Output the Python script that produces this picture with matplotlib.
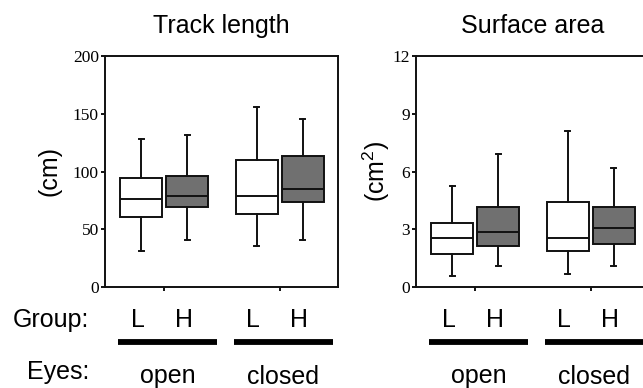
import matplotlib
matplotlib.use('Agg')
import matplotlib.pyplot as plt
from matplotlib.transforms import blended_transform_factory

# ---- data ----
group_labels = ['L', 'H']
eye_labels = ['open', 'closed']
# order: open-L, open-H, closed-L, closed-H
track_whislo = [31.2, 41.0, 35.2, 41.0]
track_q1 = [60.6, 69.3, 63.5, 73.6]
track_med = [76.2, 79.1, 79.1, 84.8]
track_q3 = [94.7, 96.1, 110.2, 113.1]
track_whishi = [127.8, 131.6, 155.8, 145.7]

area_whislo = [0.59, 1.09, 0.68, 1.09]
area_q1 = [1.70, 2.11, 1.87, 2.23]
area_med = [2.55, 2.87, 2.55, 3.05]
area_q3 = [3.31, 4.17, 4.42, 4.16]
area_whishi = [5.26, 6.89, 8.10, 6.20]

titles = ['Track length', 'Surface area']
ylabels = ['(cm)', '(cm$^{2}$)']
yticks_track = [0, 50, 100, 150, 200]
yticks_area = [0, 3, 6, 9, 12]

plt.rcParams['mathtext.fontset'] = 'custom'
plt.rcParams['mathtext.rm'] = 'Liberation Sans'
plt.rcParams['mathtext.it'] = 'Liberation Sans'
plt.rcParams['font.family'] = ['Liberation Sans', 'DejaVu Sans']

W, H = 643, 388
fig = plt.figure(figsize=(W / 100, H / 100), dpi=100)

fills = ['white', '#707070']
LW = 1.4
offset = 0.2
boxw = 0.365
sans = 'Liberation Sans'
big = 18


def make_panel(left_px, whislo, q1, med, q3, whishi, yticks, title, ylabel, ylabel_x):
    ax = fig.add_axes([left_px / W, (H - 287) / H, 233 / W, 231 / H])
    stats = []
    positions = []
    colors = []
    for gi in range(len(eye_labels)):
        for li in range(len(group_labels)):
            k = gi * len(group_labels) + li
            stats.append(dict(whislo=whislo[k], q1=q1[k], med=med[k], q3=q3[k],
                              whishi=whishi[k], fliers=[]))
            positions.append(gi + 1 + (-offset if li == 0 else offset))
            colors.append(fills[li])
    bp = ax.bxp(stats, positions=positions, widths=boxw, patch_artist=True,
                showfliers=False, capwidths=0.045,
                boxprops=dict(linewidth=LW, edgecolor='#111111'),
                medianprops=dict(linewidth=LW, color='#111111'),
                whiskerprops=dict(linewidth=LW, color='#111111'),
                capprops=dict(linewidth=LW, color='#111111'))
    for patch, c in zip(bp['boxes'], colors):
        patch.set_facecolor(c)
    ax.set_xlim(0.487, 2.504)
    ax.set_ylim(yticks[0], yticks[-1])
    ax.set_yticks(yticks)
    ax.set_yticklabels([str(t) for t in yticks], fontfamily='Liberation Serif', fontsize=12.5)
    ax.set_xticks([1, 2])
    ax.set_xticklabels([])
    ax.tick_params(axis='both', direction='out', length=3, width=LW, pad=1.5, color='#111111')
    for s in ax.spines.values():
        s.set_linewidth(LW)
        s.set_color('#111111')
    ax.set_title(title, fontsize=big, fontfamily=sans, pad=16.5)
    ax.set_ylabel(ylabel, fontsize=big, fontfamily=sans)
    ax.yaxis.set_label_coords(ylabel_x, 0.5)

    tr = blended_transform_factory(ax.transData, fig.transFigure)
    y_group = 1 - 327 / H
    y_line = 1 - 341.5 / H
    y_eyes = 1 - 383.5 / H
    for gi, e in enumerate(eye_labels):
        c = gi + 1
        for li, g in enumerate(group_labels):
            x = c + (-offset if li == 0 else offset) - 0.03
            ax.text(x, y_group, g, transform=tr, ha='center', va='baseline',
                    fontsize=big, fontfamily=sans, clip_on=False)
        ax.plot([c - 0.4, c + 0.46], [y_line, y_line], transform=tr, color='black',
                linewidth=4.2, solid_capstyle='butt', clip_on=False)
        ax.text(c + 0.03, y_eyes, e, transform=tr, ha='center', va='baseline',
                fontsize=big, fontfamily=sans, clip_on=False)
    return ax


ax1 = make_panel(105, track_whislo, track_q1, track_med, track_q3, track_whishi,
                 yticks_track, titles[0], ylabels[0], -0.185)
ax2 = make_panel(416, area_whislo, area_q1, area_med, area_q3, area_whishi,
                 yticks_area, titles[1], ylabels[1], -0.103)

fig.text(13 / W, 1 - 327 / H, 'Group:', ha='left', va='baseline', fontsize=big, fontfamily=sans)
fig.text(27 / W, 1 - 379 / H, 'Eyes:', ha='left', va='baseline', fontsize=big, fontfamily=sans)

fig.savefig('out.png', dpi=100)
